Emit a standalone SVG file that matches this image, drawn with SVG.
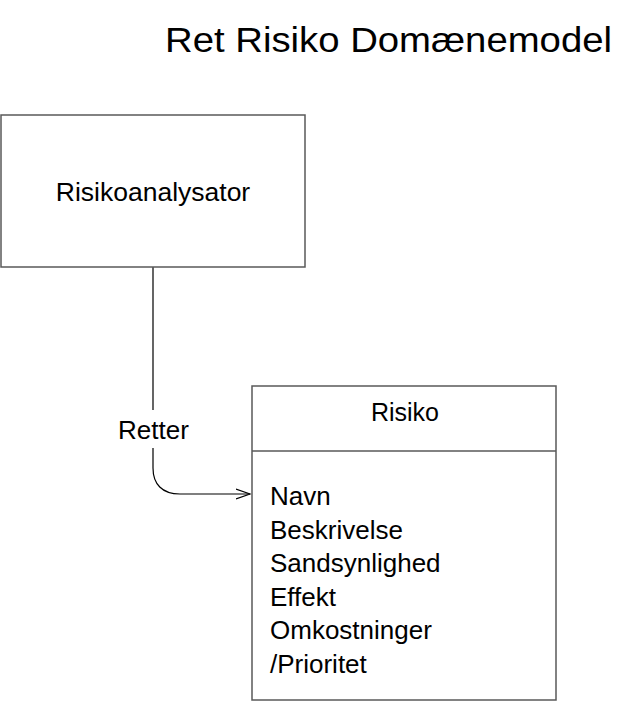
<svg xmlns="http://www.w3.org/2000/svg" width="637" height="702" viewBox="0 0 637 702">
  <style>
    text { font-family: "Liberation Sans", Arial, sans-serif; fill: #000; }
    .box { fill: #fff; stroke: #595959; stroke-width: 1.5; }
    .conn { fill: none; stroke: #000; stroke-width: 1.2; }
    .attr { font-size: 26px; }
  </style>
  <defs>
    <marker id="open" markerWidth="16" markerHeight="12" refX="14" refY="6" orient="auto" markerUnits="userSpaceOnUse">
      <path d="M0,1 L14,6 L0,11" fill="none" stroke="#000" stroke-width="1.2"/>
    </marker>
  </defs>
  <rect width="637" height="702" fill="#fff"/>
  <text id="title" x="165" y="52" font-size="35" textLength="447" lengthAdjust="spacingAndGlyphs">Ret Risiko Domænemodel</text>

  <g id="connectors">
    <path class="conn" d="M153,267 V410 M153,448 V468 C153,484 162,494 180,494 H250" marker-end="url(#open)"/>
    <text x="153.5" y="439" font-size="26" text-anchor="middle">Retter</text>
  </g>

  <g id="risikoanalysator">
    <rect class="box" x="1" y="115" width="304" height="152"/>
    <text x="153" y="201" font-size="26.5" text-anchor="middle">Risikoanalysator</text>
  </g>

  <g id="risiko">
    <rect class="box" x="252" y="386" width="304" height="314"/>
    <line x1="252" y1="451" x2="556" y2="451" stroke="#595959" stroke-width="1.5"/>
    <text x="405" y="421" font-size="25" text-anchor="middle">Risiko</text>
    <text class="attr" x="270" y="505">Navn</text>
    <text class="attr" x="270" y="538.5">Beskrivelse</text>
    <text class="attr" x="270" y="572">Sandsynlighed</text>
    <text class="attr" x="270" y="605.5">Effekt</text>
    <text class="attr" x="270" y="639">Omkostninger</text>
    <text class="attr" x="270" y="672.5">/Prioritet</text>
  </g>
</svg>
